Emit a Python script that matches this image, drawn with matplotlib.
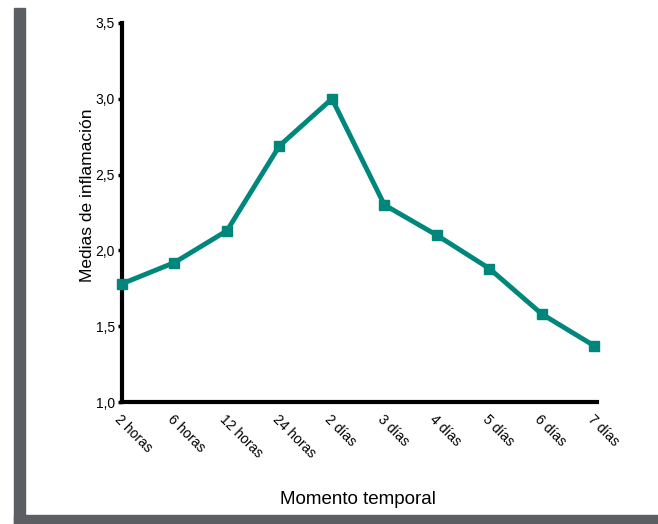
import matplotlib
matplotlib.use("Agg")
import matplotlib.pyplot as plt
import matplotlib.transforms as mtransforms
from matplotlib.patches import Rectangle

plt.rcParams['font.family'] = ['Liberation Sans', 'DejaVu Sans']

# datos
momentos = ['2 horas', '6 horas', '12 horas', '24 horas', '2 días',
            '3 días', '4 días', '5 días', '6 días', '7 días']
medias = [1.78, 1.92, 2.13, 2.69, 3.0, 2.30, 2.10, 1.88, 1.58, 1.37]
yticks = [1.0, 1.5, 2.0, 2.5, 3.0, 3.5]
ytick_labels = ['1,0', '1,5', '2,0', '2,5', '3,0', '3,5']

fig = plt.figure(figsize=(6.58, 5.24), dpi=100)

# marco gris
fig.patches.append(Rectangle((14/658, 0), 11/658, 1 - 8/524, transform=fig.transFigure,
                             color='#5b5f63', zorder=0))
fig.patches.append(Rectangle((14/658, 0), 1, 9/524, transform=fig.transFigure,
                             color='#5b5f63', zorder=0))

ax = fig.add_axes([122/658, 1 - 402/524, (597 - 122)/658, (402 - 23)/524])
x = list(range(len(momentos)))
ax.plot(x, medias, color='#00877b', lw=3.5, marker='s', markersize=7.5, clip_on=False, zorder=5)

ax.set_xlim(0, 9.05)
ax.set_ylim(1.0, 3.5)
ax.set_yticks(yticks)
ax.set_yticklabels(ytick_labels, fontsize=10)
ax.set_xticks(x)
ax.set_xticklabels(momentos, fontsize=10, rotation=-45, ha='left', va='top',
                   rotation_mode='anchor')
offset = mtransforms.ScaledTranslation(-5/100, 0, fig.dpi_scale_trans)
for lab in ax.get_xticklabels():
    lab.set_transform(lab.get_transform() + offset)
ax.tick_params(axis='x', length=0, pad=7)
ax.tick_params(axis='y', length=3, width=2.5, pad=2)

for s in ['top', 'right']:
    ax.spines[s].set_visible(False)
for s in ['left', 'bottom']:
    ax.spines[s].set_linewidth(3)

fig.text(88/658, 1 - 195/524, 'Medias de inflamación', rotation=90, ha='center', va='center',
         fontsize=12.5)
fig.text(358/658, 1 - 500/524, 'Momento temporal', ha='center', va='center', fontsize=13.5)

fig.savefig('out.png', dpi=100)
